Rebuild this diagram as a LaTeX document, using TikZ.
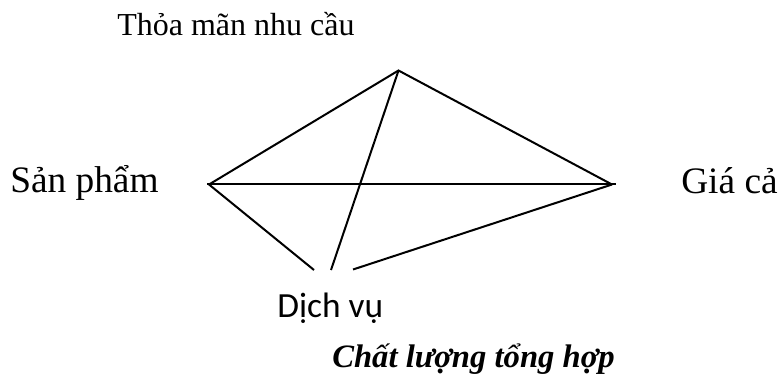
\documentclass[tikz,border=0pt]{standalone}
\usepackage{fontspec}
\setmainfont{Liberation Serif}
\newfontfamily\calibrifont{Carlito}
\usetikzlibrary{calc}

\begin{document}
\begin{tikzpicture}[x=0.75pt,y=-0.75pt,
    edge/.style={line width=1.5pt,line cap=butt},
    label/.style={anchor=base west,inner sep=0pt,text=black}]
\useasboundingbox (0,0) rectangle (781,378);
% dinh cua hinh
\coordinate (apex) at (398.5,70.5);
\coordinate (sp) at (209,184.5);
\coordinate (gc) at (612,184.5);
\coordinate (dvL) at (314,270);
\coordinate (dvM) at (331,270);
\coordinate (dvR) at (353,269.5);
% cac canh
\draw[edge] (sp) -- (apex) -- (gc);
\draw[edge] ($(sp)+(-2,-1)$) -- ($(gc)+(4,-1)$);
\draw[edge] (apex) -- (dvM);
\draw[edge] (sp) -- (dvL);
\draw[edge] (gc) -- (dvR);
% nhan
\node[label,font=\fontsize{24}{24}\selectfont] (tmnc) at (117,36) {Thỏa mãn nhu cầu};
\node[label,font=\fontsize{28}{28}\selectfont] (sanpham) at (10,192) {Sản phẩm};
\node[label,font=\fontsize{28}{28}\selectfont] (giaca) at (681,193) {Giá cả};
\node[label,font=\calibrifont\fontsize{26.5}{26.5}\selectfont] (dichvu) at (277,317) {Dịch vụ};
\node[label,font=\bfseries\itshape\fontsize{24.5}{24.5}\selectfont] (cltt) at (332,367) {Chất lượng tổng hợp};
\end{tikzpicture}
\end{document}
